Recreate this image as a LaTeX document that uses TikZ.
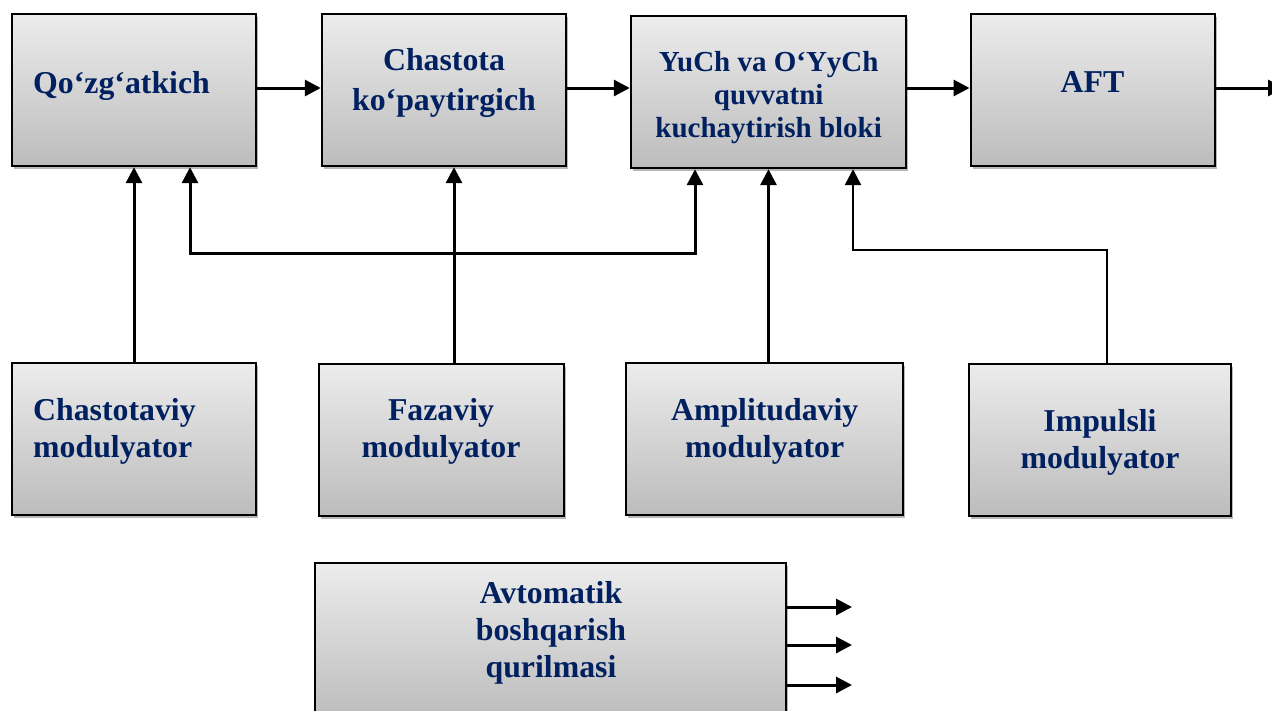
\documentclass[tikz,border=0pt]{standalone}
\usepackage{fontspec}
\setmainfont{Liberation Serif}
\usetikzlibrary{arrows.meta,shadows}
\definecolor{navy}{RGB}{0,32,96}
\definecolor{boxtop}{RGB}{236,236,236}
\definecolor{boxbot}{RGB}{188,188,188}
\newcommand\txtlines[1]{\rule{0pt}{0.8em}#1\rule[-0.8em]{0pt}{0.8em}}
\begin{document}
\begin{tikzpicture}[x=1pt,y=-1pt,
  blk/.style={draw=black,line width=2.4pt,top color=boxtop,bottom color=boxbot,
    rectangle,inner sep=0pt,
    drop shadow={shadow xshift=2pt,shadow yshift=-3pt,opacity=0.28,fill=black}},
  lbl/.style={text=navy,inner sep=0pt,align=center,
    font=\bfseries\fontsize{31.8}{37}\selectfont},
  tip/.tip={Triangle[length=16pt,width=16pt]},
  arr/.style={line width=3pt,-tip},
  ]
\useasboundingbox (0,0) rectangle (1272,710);

% boxes
\node[blk,minimum width=244,minimum height=152] (A) at (134,90) {};
\node[blk,minimum width=244,minimum height=152] (B) at (444,90) {};
\node[blk,minimum width=275,minimum height=152] (C) at (768.5,92) {};
\node[blk,minimum width=244,minimum height=152] (D) at (1092.7,90) {};
\node[blk,minimum width=244,minimum height=152] (E) at (134,439) {};
\node[blk,minimum width=245,minimum height=152] (F) at (441.5,440) {};
\node[blk,minimum width=277,minimum height=152] (G) at (764.5,439) {};
\node[blk,minimum width=262,minimum height=152] (H) at (1100,440) {};
\node[blk,minimum width=471,minimum height=157] (I) at (550.5,641.5) {};

% labels
\node[lbl,anchor=west,align=left] (tA) at (33,93) {\txtlines{Qo‘zg‘atkich}};
\node[lbl,font=\bfseries\fontsize{31.8}{40}\selectfont] (tB) at (444,90) {\txtlines{Chastota\\ko‘paytirgich}};
\node[lbl,font=\bfseries\fontsize{29}{33}\selectfont] (tC) at (768.7,104) {\txtlines{YuCh va O‘YyCh\\quvvatni\\kuchaytirish bloki}};
\node[lbl] (tD) at (1092.5,92.3) {\txtlines{AFT}};
\node[lbl,anchor=west,align=left] (tE) at (33,438.5) {\txtlines{Chastotaviy\\modulyator}};
\node[lbl] (tF) at (441,438.5) {\txtlines{Fazaviy\\modulyator}};
\node[lbl] (tG) at (764.7,438.5) {\txtlines{Amplitudaviy\\modulyator}};
\node[lbl] (tH) at (1100,450) {\txtlines{Impulsli\\modulyator}};
\node[lbl] (tI) at (551,640) {\txtlines{Avtomatik\\boshqarish\\qurilmasi}};

% top chain
\coordinate (r) at (0,88);
\coordinate (out) at (1284,88);
\draw[arr] (A.east |- r) -- (B.west |- r);
\draw[arr] (B.east |- r) -- (C.west |- r);
\draw[arr] (C.east |- r) -- (D.west |- r);
\draw[arr] (D.east |- r) -- (out);

% modulators
\coordinate (fx) at (454,0);
\draw[arr] (E.north) -- (E.north |- A.south);
\draw[arr] (F.north -| fx) -- (B.south -| fx);
\draw[arr] (G.north -| C.south) -- (C.south);

% feedback between A and C
\coordinate (fbL) at (190,253);
\coordinate (fbR) at (695,253);
\draw[line width=3pt,tip-tip] (A.south -| fbL) -- (fbL) -- (fbR) -- (C.south -| fbR);

% impulse modulator to C
\coordinate (hR) at (1107,250);
\coordinate (hL) at (853,250);
\draw[arr,line width=2.5pt] (H.north -| hR) -- (hR) -- (hL) -- (C.south -| hL);

% automatic control outputs
\coordinate (o1) at (852,607);
\coordinate (o2) at (852,645);
\coordinate (o3) at (852,685);
\draw[arr] (I.east |- o1) -- (o1);
\draw[arr] (I.east |- o2) -- (o2);
\draw[arr] (I.east |- o3) -- (o3);
\end{tikzpicture}
\end{document}
